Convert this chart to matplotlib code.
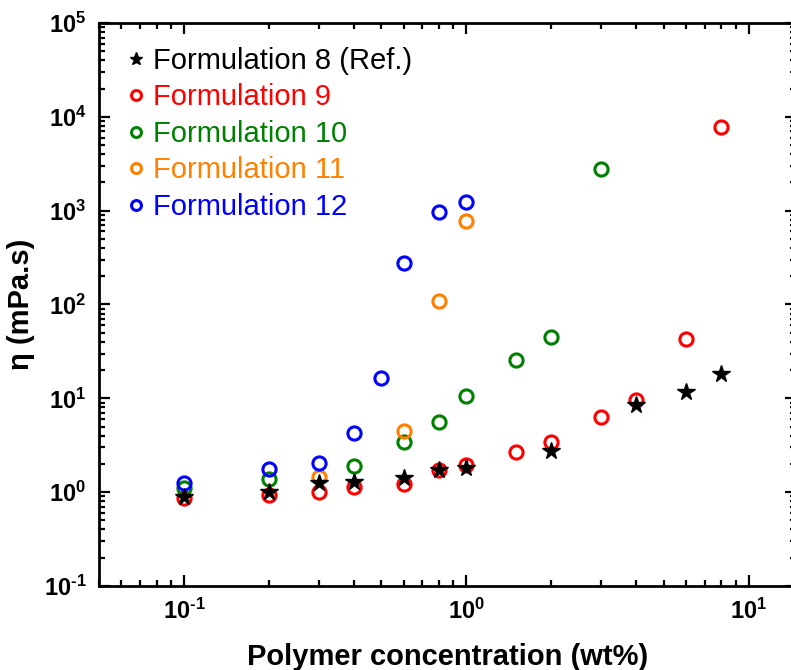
import matplotlib.pyplot as plt
import numpy as np
from matplotlib.ticker import LogLocator, FixedLocator, NullFormatter

plt.rcParams['font.family'] = ['Liberation Sans', 'DejaVu Sans']
plt.rcParams['mathtext.fontset'] = 'custom'
plt.rcParams['mathtext.rm'] = 'Liberation Sans'
plt.rcParams['mathtext.bf'] = 'Liberation Sans:bold'

# Formulation 8 (Ref.)
x8 = [0.1, 0.2, 0.3, 0.4, 0.6, 0.8, 1.0, 2.0, 4.0, 6.0, 8.0]
y8 = [0.885, 1.0, 1.25, 1.28, 1.41, 1.72, 1.8, 2.73, 8.5, 11.6, 18.1]
# Formulation 9
x9 = [0.1, 0.2, 0.3, 0.4, 0.6, 0.8, 1.0, 1.5, 2.0, 3.0, 4.0, 6.0, 8.0]
y9 = [0.86, 0.93, 1.0, 1.13, 1.22, 1.72, 1.94, 2.67, 3.41, 6.3, 9.6, 42.8, 7800]
# Formulation 10
x10 = [0.1, 0.2, 0.4, 0.6, 0.8, 1.0, 1.5, 2.0, 3.0]
y10 = [1.1, 1.38, 1.89, 3.41, 5.57, 10.6, 25.5, 44.9, 2770]
# Formulation 11
x11 = [0.3, 0.6, 0.8, 1.0]
y11 = [1.45, 4.47, 108, 776]
# Formulation 12
x12 = [0.1, 0.2, 0.3, 0.4, 0.5, 0.6, 0.8, 1.0]
y12 = [1.25, 1.76, 2.04, 4.26, 16.4, 275, 970, 1240]

labels = ['Formulation 8 (Ref.)', 'Formulation 9', 'Formulation 10',
          'Formulation 11', 'Formulation 12']
colors = ['black', '#ff0000', '#008000', '#ff8000', '#0000ff']

fig = plt.figure(figsize=(7.91, 6.7), dpi=100)
ax = fig.add_axes([0.125, 0.1254, 0.881, 0.8403])

ax.plot(x8, y8, '*', color=colors[0], ms=13, ls='none', label=labels[0])
series = [(x9, y9), (x10, y10), (x11, y11), (x12, y12)]
for (xs, ys), lab, c in zip(series, labels[1:], colors[1:]):
    ax.plot(xs, ys, 'o', mfc='none', mec=c, mew=2.2, ms=9.5, ls='none',
            label=lab)
# stars on top
ax.lines[0].set_zorder(5)

ax.set_xscale('log')
ax.set_yscale('log')
ax.set_xlim(0.05, 14.7)
ax.set_ylim(0.1, 1e5)

ax.xaxis.set_major_locator(FixedLocator([0.1, 1, 10]))
ax.yaxis.set_major_locator(FixedLocator([0.1, 1, 10, 100, 1e3, 1e4, 1e5]))
ax.xaxis.set_minor_locator(LogLocator(base=10, subs=np.arange(2, 10), numticks=20))
ax.yaxis.set_minor_locator(LogLocator(base=10, subs=np.arange(2, 10), numticks=20))
ax.xaxis.set_minor_formatter(NullFormatter())
ax.yaxis.set_minor_formatter(NullFormatter())


def lab(e):
    s = ('\u2010%d' % -e) if e < 0 else '%d' % e
    return r'$\mathbf{10^{%s}}$' % s


ax.set_xticklabels([lab(e) for e in (-1, 0, 1)])
ax.set_yticklabels([lab(e) for e in range(-1, 6)])

ax.tick_params(which='both', direction='in', top=True, right=True,
               width=1.6, labelsize=17)
ax.tick_params(which='major', length=8, pad=9)
ax.tick_params(which='minor', length=4.5)
for s in ax.spines.values():
    s.set_linewidth(2)

ax.set_xlabel('Polymer concentration (wt%)', fontsize=21, fontweight='bold',
              labelpad=14)
ax.set_ylabel('η (mPa.s)', fontsize=21, fontweight='bold', labelpad=6)

leg = ax.legend(loc='upper left', bbox_to_anchor=(0.025, 0.978), frameon=False,
                fontsize=21, handlelength=0.55, handletextpad=0.3,
                labelspacing=0.29, markerscale=0.75, borderaxespad=0)
for t, c in zip(leg.get_texts(), colors):
    t.set_color(c)

fig.savefig('out.png', dpi=100)
